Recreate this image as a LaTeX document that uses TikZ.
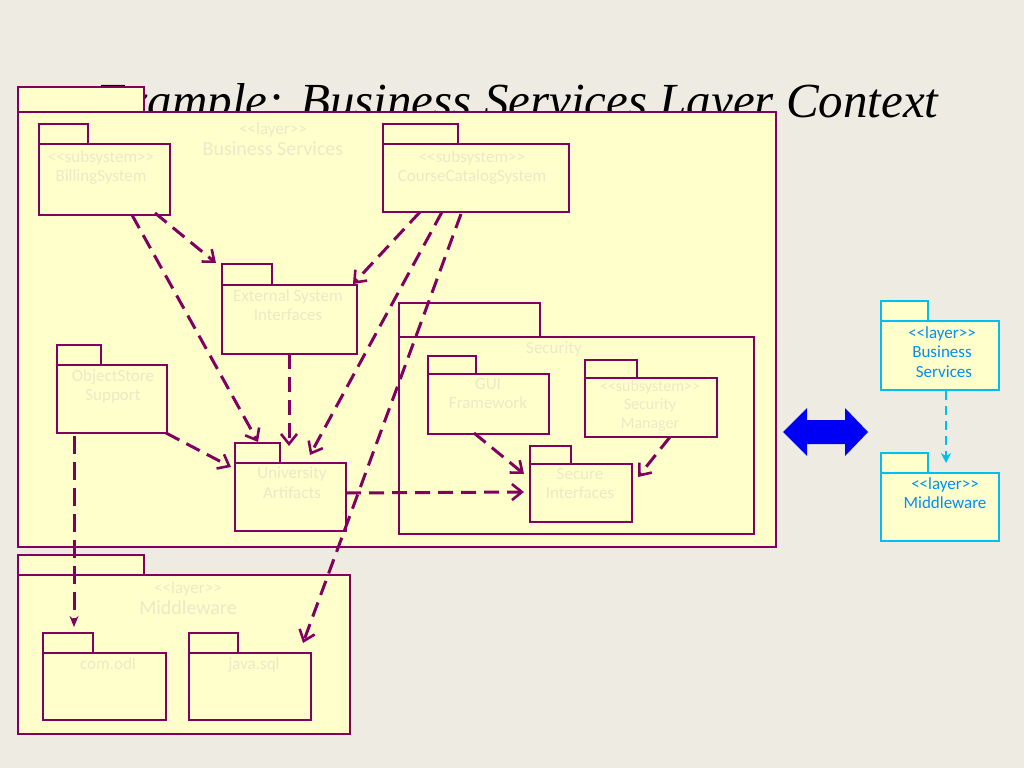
\documentclass[tikz,border=0pt]{standalone}
\usepackage{fontspec}
\setsansfont{Carlito}
\setmainfont{Liberation Serif}
\usetikzlibrary{arrows.meta,positioning}
\definecolor{pk_bg}{RGB}{238, 235, 227}
\definecolor{pk_yel}{RGB}{255, 255, 204}
\definecolor{pk_pur}{RGB}{128, 0, 96}
\definecolor{pk_txt}{RGB}{234, 234, 200}
\definecolor{pk_cyan}{RGB}{0, 190, 240}
\definecolor{pk_blue}{RGB}{0, 0, 245}
\tikzstyle{pb}=[rectangle,fill=pk_yel,draw=pk_pur,line width=1.8pt,anchor=north west,inner sep=0pt]
\tikzstyle{cb}=[rectangle,fill=pk_yel,draw=pk_cyan,line width=1.8pt,anchor=north west,inner sep=0pt]
\tikzstyle{tx}=[font=\sffamily\fontsize{17}{19.5}\selectfont,text=pk_txt,align=center,anchor=north,inner sep=0pt]
\tikzstyle{ct}=[tx,text=pk_cyan!75!blue]
\tikzstyle{dep}=[draw=pk_pur,line width=3pt,dash pattern=on 15pt off 8pt,-{Straight Barb[length=10pt,width=16pt,line width=2.6pt]}]
\tikzstyle{cdep}=[dep,draw=pk_cyan,line width=2.4pt,dash pattern=on 9pt off 6pt,-{Stealth[length=10pt,width=10pt]}]
\newcommand{\pkg}[6]{% style, name, x, y, w, h
  \node[#1,minimum width=#5pt,minimum height=#6pt] (#2) at (#3,#4) {};}
\newcommand{\st}[1]{{<}{<}#1{>}{>}}

\begin{document}
\begin{tikzpicture}[x=1pt,y=-1pt]
\fill[pk_bg] (0,0) rectangle (1024,768);
\useasboundingbox (0,0) rectangle (1024,768);
\node[font=\fontsize{49}{52}\selectfont\itshape,anchor=base west,inner sep=0pt] (title) at (96,117) {Example: Business Services Layer Context};
% business services layer
\pkg{pb}{bst}{17}{86}{126}{25}
\pkg{pb}{bs}{17}{111}{758}{435}
\node[tx] (bsl) at (273,122) {\st{layer}\\[2pt]\fontsize{20}{22}\selectfont Business Services};
\pkg{pb}{bit}{38}{123}{49}{20}
\pkg{pb}{bill}{38}{143}{131}{71}
\node[tx] (billt) at (101,150) {\st{subsystem}\\BillingSystem};
\pkg{pb}{cct}{382}{123}{75}{20}
\pkg{pb}{cc}{382}{143}{186}{68}
\node[tx] (cct) at (472,150) {\st{subsystem}\\CourseCatalogSystem};
\pkg{pb}{ext}{221}{263}{50}{21}
\pkg{pb}{ex}{221}{284}{135}{69}
\node[tx] (ext) at (288,289) {External System\\Interfaces};
\pkg{pb}{ost}{56}{344}{44}{20}
\pkg{pb}{os}{56}{364}{110}{68}
\node[tx] (ostx) at (113,369) {ObjectStore\\Support};
\pkg{pb}{unt}{234}{442}{45}{20}
\pkg{pb}{un}{234}{462}{111}{68}
\node[tx] (untx) at (292,467) {University\\Artifacts};
% security
\pkg{pb}{set}{398}{302}{141}{34}
\pkg{pb}{se}{398}{336}{355}{197}
\node[tx] (setx) at (554,342) {Security};
\pkg{pb}{gut}{427}{355}{48}{18}
\pkg{pb}{gu}{427}{373}{121}{60}
\node[tx] (gutx) at (488,378) {GUI\\Framework};
\pkg{pb}{smt}{584}{359}{52}{18}
\pkg{pb}{sm}{584}{377}{132}{59}
\node[tx,font=\sffamily\fontsize{16}{18.5}\selectfont] (smtx) at (650,380) {\st{subsystem}\\Security\\Manager};
\pkg{pb}{sit}{529}{445}{41}{18}
\pkg{pb}{si}{529}{463}{102}{58}
\node[tx] (sitx) at (580,468) {Secure\\Interfaces};
% middleware layer
\pkg{pb}{mwt}{17}{554}{126}{20}
\pkg{pb}{mw}{17}{574}{332}{159}
\node[tx] (mwtx) at (188,581) {\st{layer}\\[2pt]\fontsize{20}{22}\selectfont Middleware};
\pkg{pb}{odt}{42}{632}{50}{20}
\pkg{pb}{od}{42}{652}{123}{67}
\node[tx] (odtx) at (108,657) {com.odl};
\pkg{pb}{jst}{188}{632}{49}{20}
\pkg{pb}{js}{188}{652}{122}{67}
\node[tx] (jstx) at (254,657) {java.sql};
% dependencies
\coordinate (a1) at (155,213); \coordinate (a2) at (216,263);
\coordinate (b1) at (132,215); \coordinate (b2) at (258,442);
\coordinate (c1) at (420,212); \coordinate (c2) at (353,284);
\coordinate (d1) at (442,212); \coordinate (d2) at (310,455);
\coordinate (e1) at (461,214); \coordinate (e2) at (303,643);
\coordinate (f1) at (289,354); \coordinate (f2) at (289,446);
\coordinate (g1) at (166,433); \coordinate (g2) at (231,467);
\coordinate (h1) at (74,436);  \coordinate (h2) at (74,627);
\coordinate (i1) at (346,493); \coordinate (i2) at (524,492);
\coordinate (j1) at (474,433); \coordinate (j2) at (524,474);
\coordinate (k1) at (670,437); \coordinate (k2) at (638,477);
\foreach \s/\t in {a1/a2,b1/b2,c1/c2,d1/d2,e1/e2,f1/f2,g1/g2,i1/i2,j1/j2,k1/k2}
  \draw[dep] (\s) -- (\t);
\draw[dep,dash pattern=on 18pt off 8pt,-{Stealth[length=11pt,width=9pt]}] (h1) -- (h2);
% double arrow
\fill[pk_blue] (783,432) -- (807,408) -- (807,420) -- (845,420) -- (845,408) -- (868,432)
  -- (845,456) -- (845,444) -- (807,444) -- (807,456) -- cycle;
% context
\pkg{cb}{cbt}{880}{300}{47}{20}
\pkg{cb}{cbs}{880}{320}{118}{69}
\node[ct] (cbtx) at (942,326) {\st{layer}\\Business\\\ Services};
\pkg{cb}{cmt}{880}{452}{47}{20}
\pkg{cb}{cmw}{880}{472}{118}{68}
\node[ct] (cmtx) at (945,477) {\st{layer}\\Middleware};
\draw[cdep] (cbs.south -| 946,0) -- (946,463);
\end{tikzpicture}
\end{document}
